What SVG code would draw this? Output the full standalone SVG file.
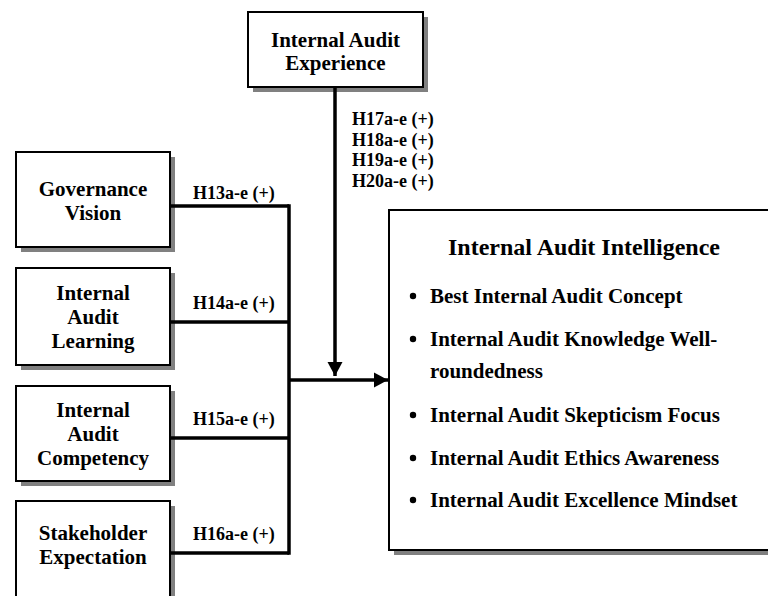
<svg xmlns="http://www.w3.org/2000/svg" width="768" height="596" viewBox="0 0 768 596">
  <style>
    .shadow { fill: #808080; }
    .box { fill: #ffffff; stroke: #000000; stroke-width: 2; }
    .lbl { font-family: "Liberation Serif", "Times New Roman", serif; font-weight: bold; font-size: 21px; fill: #000; text-anchor: middle; }
    .hyp { font-family: "Liberation Serif", "Times New Roman", serif; font-weight: bold; font-size: 18px; fill: #000; }
    .title { font-family: "Liberation Serif", "Times New Roman", serif; font-weight: bold; font-size: 24px; fill: #000; text-anchor: middle; }
    .item { font-family: "Liberation Serif", "Times New Roman", serif; font-weight: bold; font-size: 21px; fill: #000; }
    .wire { fill: none; stroke: #000; stroke-width: 3.5; }
  </style>
  <defs>
    <marker id="arrow" markerUnits="userSpaceOnUse" markerWidth="16" markerHeight="16" refX="14" refY="8" orient="auto">
      <path d="M0,0.5 L14,8 L0,15.5 Z" fill="#000"/>
    </marker>
  </defs>
  <rect width="768" height="596" fill="#ffffff"/>

  <!-- moderator -->
  <g id="experience">
    <rect class="shadow" x="253" y="17" width="175" height="75"/>
    <rect class="box" x="248" y="12" width="175" height="75"/>
    <text class="lbl" x="335.5" y="47">Internal Audit</text>
    <text class="lbl" x="335.5" y="70">Experience</text>
  </g>

  <!-- antecedents -->
  <g id="governance">
    <rect class="shadow" x="21" y="157" width="154" height="95"/>
    <rect class="box" x="16" y="152" width="154" height="95"/>
    <text class="lbl" x="93" y="196">Governance</text>
    <text class="lbl" x="93" y="220">Vision</text>
  </g>
  <g id="learning">
    <rect class="shadow" x="21" y="273" width="154" height="97"/>
    <rect class="box" x="16" y="268" width="154" height="97"/>
    <text class="lbl" x="93" y="300">Internal</text>
    <text class="lbl" x="93" y="324">Audit</text>
    <text class="lbl" x="93" y="348">Learning</text>
  </g>
  <g id="competency">
    <rect class="shadow" x="21" y="391" width="154" height="95"/>
    <rect class="box" x="16" y="386" width="154" height="95"/>
    <text class="lbl" x="93" y="417">Internal</text>
    <text class="lbl" x="93" y="441">Audit</text>
    <text class="lbl" x="93" y="465">Competency</text>
  </g>
  <g id="stakeholder">
    <rect class="shadow" x="21" y="506" width="154" height="100"/>
    <rect class="box" x="16" y="501" width="154" height="100"/>
    <text class="lbl" x="93" y="540">Stakeholder</text>
    <text class="lbl" x="93" y="564">Expectation</text>
  </g>

  <!-- outcome -->
  <g id="intelligence">
    <rect class="shadow" x="394" y="215" width="390" height="340"/>
    <rect class="box" x="389" y="210" width="390" height="340"/>
    <text class="title" x="584" y="255">Internal Audit Intelligence</text>
    <g>
      <circle cx="413" cy="296" r="3.2"/>
      <text class="item" x="430" y="303">Best Internal Audit Concept</text>
      <circle cx="413" cy="339" r="3.2"/>
      <text class="item" x="430" y="346">Internal Audit Knowledge Well-</text>
      <text class="item" x="430" y="378">roundedness</text>
      <circle cx="413" cy="415" r="3.2"/>
      <text class="item" x="430" y="422">Internal Audit Skepticism Focus</text>
      <circle cx="413" cy="458" r="3.2"/>
      <text class="item" x="430" y="465">Internal Audit Ethics Awareness</text>
      <circle cx="413" cy="500" r="3.2"/>
      <text class="item" x="430" y="507">Internal Audit Excellence Mindset</text>
    </g>
  </g>

  <!-- connectors -->
  <g id="connectors">
    <polyline class="wire" points="170,206 289,206"/>
    <polyline class="wire" points="170,322 289,322"/>
    <polyline class="wire" points="170,438 289,438"/>
    <polyline class="wire" points="170,553 289,553"/>
    <line class="wire" x1="289" y1="204.25" x2="289" y2="554.75"/>
    <line class="wire" x1="289" y1="380" x2="388" y2="380" marker-end="url(#arrow)"/>
    <line class="wire" x1="335" y1="88" x2="335" y2="376" marker-end="url(#arrow)"/>
  </g>

  <!-- hypothesis labels -->
  <g id="labels">
    <text class="hyp" x="193" y="199">H13a-e (+)</text>
    <text class="hyp" x="193" y="309">H14a-e (+)</text>
    <text class="hyp" x="193" y="425">H15a-e (+)</text>
    <text class="hyp" x="193" y="540">H16a-e (+)</text>
    <text class="hyp" x="352" y="125">H17a-e (+)</text>
    <text class="hyp" x="352" y="145.5">H18a-e (+)</text>
    <text class="hyp" x="352" y="166">H19a-e (+)</text>
    <text class="hyp" x="352" y="186.5">H20a-e (+)</text>
  </g>
</svg>
